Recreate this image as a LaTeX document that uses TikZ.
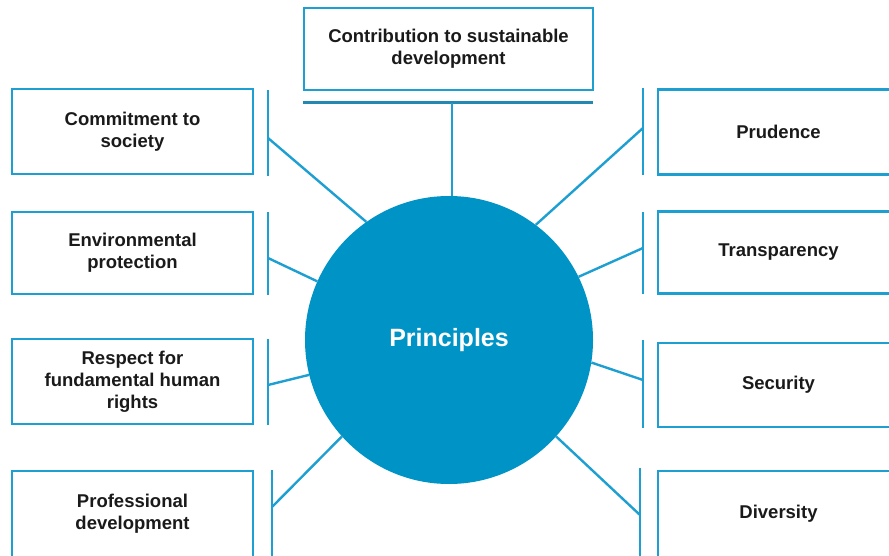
\documentclass[tikz,border=0pt]{standalone}
\usepackage{fontspec}
\setmainfont{Liberation Sans}
\definecolor{pblue}{HTML}{0093C6}
\definecolor{pline}{HTML}{1E9FD2}
\definecolor{pbar}{HTML}{2388B2}
\definecolor{ptext}{HTML}{1A1A1A}

\begin{document}
\begin{tikzpicture}[x=1pt,y=-1pt,
  box/.style={draw=pline,line width=2.8pt,minimum width=241pt,minimum height=84pt,
    align=center,text=ptext,font=\fontsize{18.5}{22}\selectfont\bfseries},
  link/.style={pline,line width=2.4pt}]
\useasboundingbox (0,0) rectangle (889,556);
\clip (0,0) rectangle (889,556);
%----------------centre----------
\node[circle,fill=pblue,minimum size=288pt,inner sep=0pt,text=white,
  font=\fontsize{25}{29}\selectfont\bfseries] (princ) at (449,340){Principles};
%----------------top----------
\node[box,minimum width=289pt,minimum height=82pt] (contrib) at (448.5,49){Contribution to sustainable\\development};
\draw[pbar,line width=3pt] (303,103)--(593,103);
\coordinate (ctop) at (452,103);
\draw[link] (ctop)--(ctop |- princ.north);
%----------------left----------
\node[box,minimum height=85pt] (commit) at (132.5,131.5){Commitment to\\society};
\node[box,minimum height=82pt] (env) at (132.5,253){Environmental\\protection};
\node[box,minimum height=85pt] (rights) at (132.5,381.5){Respect for\\fundamental human\\rights};
\node[box,minimum height=86pt] (prof) at (132.5,514){Professional\\development};
\draw[link] (268,90)--(268,176);
\draw[link] (268,212)--(268,295);
\draw[link] (268,339)--(268,425);
\draw[link] (272,470)--(272,560);
\coordinate (l1) at (268,138);
\coordinate (l2) at (268,258);
\coordinate (l3) at (268,385);
\coordinate (l4) at (272,507);
\draw[link] (l1)--(princ.125);
\draw[link] (l2)--(princ.156);
\draw[link] (l3)--(princ.194);
\draw[link] (l4)--(princ.222);
%----------------right----------
\node[box,minimum height=85pt] (prud) at (778.5,132){Prudence};
\node[box,minimum height=82pt] (transp) at (778.5,252.5){Transparency};
\node[box,minimum height=84pt] (secur) at (778.5,385){Security};
\node[box,minimum height=86pt] (divers) at (778.5,514){Diversity};
\draw[link] (643,88)--(643,175);
\draw[link] (643,212)--(643,294);
\draw[link] (643,340)--(643,428);
\draw[link] (640,468)--(640,560);
\coordinate (r1) at (643,128);
\coordinate (r2) at (643,248);
\coordinate (r3) at (643,380);
\coordinate (r4) at (640,515);
\draw[link] (r1)--(princ.53);
\draw[link] (r2)--(princ.26);
\draw[link] (r3)--(princ.-9);
\draw[link] (r4)--(princ.-42);
\end{tikzpicture}
\end{document}
